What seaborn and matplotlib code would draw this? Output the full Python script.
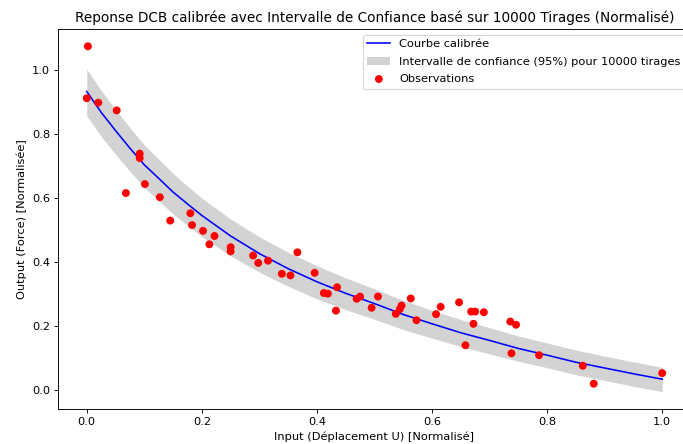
import matplotlib
matplotlib.use("Agg")
import matplotlib.pyplot as plt
import seaborn as sns
import pandas as pd

# Calibrated curve and confidence band
curve_x = [0.0, 0.025, 0.05, 0.075, 0.1, 0.125, 0.15, 0.175, 0.2, 0.25, 0.3, 0.35,
           0.4, 0.45, 0.5, 0.55, 0.6, 0.65, 0.7, 0.75, 0.8, 0.85, 0.9, 0.95, 1.0]
curve_y = [0.932, 0.867, 0.810, 0.755, 0.703, 0.661, 0.618, 0.581, 0.545, 0.481, 0.426, 0.379,
           0.338, 0.302, 0.270, 0.236, 0.207, 0.179, 0.155, 0.130, 0.109, 0.087, 0.069, 0.051, 0.034]
band_upper = [1.002, 0.935, 0.876, 0.819, 0.765, 0.721, 0.676, 0.637, 0.599, 0.534, 0.478, 0.430,
              0.388, 0.350, 0.316, 0.280, 0.249, 0.220, 0.195, 0.169, 0.147, 0.125, 0.106, 0.088, 0.071]
band_lower = [0.856, 0.792, 0.736, 0.683, 0.632, 0.591, 0.550, 0.514, 0.479, 0.419, 0.368, 0.324,
              0.285, 0.251, 0.221, 0.189, 0.162, 0.136, 0.113, 0.090, 0.070, 0.048, 0.030, 0.012, -0.005]

# Observations
obs_x = [0.002, 0.000, 0.020, 0.052, 0.068, 0.092, 0.092, 0.101, 0.127, 0.145,
         0.180, 0.183, 0.202, 0.213, 0.222, 0.250, 0.250, 0.289, 0.298, 0.315,
         0.339, 0.354, 0.366, 0.396, 0.412, 0.419, 0.433, 0.435, 0.469, 0.475,
         0.495, 0.506, 0.537, 0.544, 0.547, 0.563, 0.573, 0.607, 0.615, 0.647,
         0.658, 0.668, 0.672, 0.675, 0.690, 0.736, 0.738, 0.746, 0.786, 0.862,
         0.881, 1.000]
obs_y = [1.073, 0.911, 0.897, 0.873, 0.615, 0.738, 0.724, 0.643, 0.602, 0.529,
         0.552, 0.515, 0.497, 0.455, 0.481, 0.446, 0.433, 0.420, 0.397, 0.404,
         0.363, 0.358, 0.430, 0.366, 0.303, 0.301, 0.248, 0.321, 0.285, 0.292,
         0.257, 0.292, 0.238, 0.253, 0.264, 0.286, 0.218, 0.237, 0.260, 0.274,
         0.140, 0.245, 0.207, 0.245, 0.243, 0.214, 0.115, 0.204, 0.109, 0.076,
         0.020, 0.053]

x_ticks = [0.0, 0.2, 0.4, 0.6, 0.8, 1.0]
y_ticks = [0.0, 0.2, 0.4, 0.6, 0.8, 1.0]

title = "Reponse DCB calibrée avec Intervalle de Confiance basé sur 10000 Tirages (Normalisé)"
xlabel = "Input (Déplacement U) [Normalisé]"
ylabel = "Output (Force) [Normalisée]"
lbl_curve = "Courbe calibrée"
lbl_band = "Intervalle de confiance (95%) pour 10000 tirages"
lbl_obs = "Observations"

curve_df = pd.DataFrame({"x": curve_x, "y": curve_y, "lo": band_lower, "hi": band_upper})
obs_df = pd.DataFrame({"x": obs_x, "y": obs_y})

plt.rcParams['font.family'] = ['DejaVu Sans']
DPI = 82
fig = plt.figure(figsize=(683 / DPI, 444 / DPI), dpi=DPI)
ax = fig.add_axes([0.0849, 0.0788, 0.9268, 0.8559])

sns.lineplot(data=curve_df, x="x", y="y", color="blue", linewidth=1.4,
             label=lbl_curve, ax=ax, zorder=2)
ax.fill_between(curve_df["x"], curve_df["lo"], curve_df["hi"], color="lightgray",
                linewidth=0, label=lbl_band, zorder=1)
sns.scatterplot(data=obs_df, x="x", y="y", color="red", s=48, edgecolor="none",
                linewidth=0, label=lbl_obs, ax=ax, zorder=3)

ax.set_xlim(-0.05, 1.05)
ax.set_ylim(-0.059, 1.127)
ax.set_xticks(x_ticks)
ax.set_yticks(y_ticks)
ax.set_title(title)
ax.set_xlabel(xlabel)
ax.set_ylabel(ylabel)
ax.legend(loc="upper right", labelspacing=0.65)

fig.savefig("out.png", dpi=DPI)
